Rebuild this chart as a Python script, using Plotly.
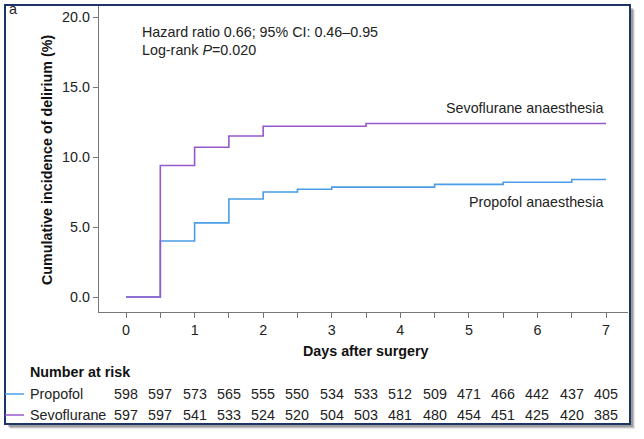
import plotly.graph_objects as go

# ---- data ----
propofol_days = [0, 0.5, 1, 1.5, 2, 2.5, 3, 4.5, 5.5, 6.5, 7]
propofol_inc = [0, 4.0, 5.3, 7.0, 7.5, 7.7, 7.85, 8.05, 8.2, 8.4, 8.4]
sevo_days = [0, 0.5, 1, 1.5, 2, 3.5, 7]
sevo_inc = [0, 9.4, 10.7, 11.5, 12.2, 12.4, 12.4]

risk_days = [0, 0.5, 1, 1.5, 2, 2.5, 3, 3.5, 4, 4.5, 5, 5.5, 6, 6.5, 7]
risk_propofol = [598, 597, 573, 565, 555, 550, 534, 533, 512, 509, 471, 466, 442, 437, 405]
risk_sevo = [597, 597, 541, 533, 524, 520, 504, 503, 481, 480, 454, 451, 425, 420, 385]

y_ticks = [0, 5, 10, 15, 20]
x_ticks = [0, 1, 2, 3, 4, 5, 6, 7]

BLUE = "#4A9DE6"
PURPLE = "#9658CC"
NAVY = "#1C3468"
FONT = "Liberation Sans, Arial, sans-serif"
FS = 14.3
W, H = 644, 439


def px_x(p):
    return p / W


def px_y(p):
    return (H - p) / H


fig = go.Figure()
fig.add_trace(go.Scatter(x=propofol_days, y=propofol_inc, mode="lines",
                         line=dict(color=BLUE, width=1.6, shape="hv"),
                         showlegend=False, hoverinfo="skip"))
fig.add_trace(go.Scatter(x=sevo_days, y=sevo_inc, mode="lines",
                         line=dict(color=PURPLE, width=1.6, shape="hv"),
                         showlegend=False, hoverinfo="skip"))

annotations = []
# curve labels
annotations.append(dict(x=6.98, y=13.5, xref="x", yref="y", text="Sevoflurane anaesthesia",
                        showarrow=False, xanchor="right", yanchor="middle",
                        font=dict(size=FS, color="#222")))
annotations.append(dict(x=6.98, y=6.79, xref="x", yref="y", text="Propofol anaesthesia",
                        showarrow=False, xanchor="right", yanchor="middle",
                        font=dict(size=FS, color="#222")))
annotations.append(dict(x=0.21, y=18.93, xref="x", yref="y",
                        text="Hazard ratio 0.66; 95% CI: 0.46\u20130.95",
                        showarrow=False, xanchor="left", yanchor="middle",
                        font=dict(size=FS, color="#222")))
annotations.append(dict(x=0.21, y=17.62, xref="x", yref="y",
                        text="Log-rank <i>P</i>=0.020",
                        showarrow=False, xanchor="left", yanchor="middle",
                        font=dict(size=FS, color="#222")))
# panel letter
annotations.append(dict(x=px_x(7), y=px_y(9), xref="paper", yref="paper", text="a",
                        showarrow=False, xanchor="left", yanchor="middle",
                        font=dict(size=FS, color="#222")))
# axis titles
annotations.append(dict(x=px_x(47), y=px_y(160), xref="paper", yref="paper",
                        text="<b>Cumulative incidence of delirium (%)</b>", textangle=-90,
                        showarrow=False, xanchor="center", yanchor="middle",
                        font=dict(size=FS, color="#111")))
annotations.append(dict(x=3.5, y=px_y(351), xref="x", yref="paper",
                        text="<b>Days after surgery</b>",
                        showarrow=False, xanchor="center", yanchor="middle",
                        font=dict(size=FS, color="#111")))
# number at risk
annotations.append(dict(x=px_x(28), y=px_y(372), xref="paper", yref="paper",
                        text="<b>Number at risk</b>",
                        showarrow=False, xanchor="left", yanchor="middle",
                        font=dict(size=FS, color="#111")))
row_y = [394, 415]
for name, vals, yy in [("Propofol", risk_propofol, row_y[0]), ("Sevoflurane", risk_sevo, row_y[1])]:
    annotations.append(dict(x=px_x(28), y=px_y(yy), xref="paper", yref="paper", text=name,
                            showarrow=False, xanchor="left", yanchor="middle",
                            font=dict(size=FS, color="#222")))
    for d, v in zip(risk_days, vals):
        annotations.append(dict(x=d, y=px_y(yy), xref="x", yref="paper", text=str(v),
                                showarrow=False, xanchor="center", yanchor="middle",
                                font=dict(size=FS, color="#222")))

shapes = []
# drop shadow
for off, op in [(5, 0.10), (4, 0.15), (3, 0.2)]:
    shapes.append(dict(type="rect", xref="paper", yref="paper",
                       x0=px_x(5 + off), x1=px_x(630 + off), y0=px_y(424 + off), y1=px_y(5 + off),
                       line=dict(width=0), fillcolor="rgba(0,0,0,%s)" % op, layer="below"))
shapes.append(dict(type="rect", xref="paper", yref="paper",
                   x0=px_x(5), x1=px_x(630), y0=px_y(424), y1=px_y(5),
                   line=dict(width=0), fillcolor="white", layer="below"))
shapes.append(dict(type="rect", xref="paper", yref="paper",
                   x0=px_x(5), x1=px_x(630), y0=px_y(424), y1=px_y(5),
                   line=dict(color=NAVY, width=2), fillcolor="rgba(0,0,0,0)", layer="above"))
# risk table swatches
for col, yy in [(BLUE, row_y[0]), (PURPLE, row_y[1])]:
    shapes.append(dict(type="line", xref="paper", yref="paper",
                       x0=px_x(5), x1=px_x(24), y0=px_y(yy), y1=px_y(yy),
                       line=dict(color=col, width=1.5)))

fig.update_layout(
    width=W, height=H,
    margin=dict(l=0, r=0, t=0, b=0),
    paper_bgcolor="white", plot_bgcolor="rgba(0,0,0,0)",
    font=dict(family=FONT, size=FS, color="#222"),
    annotations=annotations, shapes=shapes,
    xaxis=dict(domain=[px_x(99), px_x(628)], range=[-0.394, 7.32],
               tickvals=x_ticks, ticks="outside", ticklen=5, tickcolor="#777",
               showline=True, linecolor="#777", linewidth=1.2, showgrid=False, zeroline=False,
               tickfont=dict(size=FS, color="#222"),
               minor=dict(tickvals=[0.5, 1.5, 2.5, 3.5, 4.5, 5.5, 6.5], ticks="outside",
                          ticklen=5, tickcolor="#777", showgrid=False),
               anchor="y"),
    yaxis=dict(domain=[px_y(312), px_y(5)], range=[-1.07, 20.86],
               tickvals=y_ticks, tickformat=".1f", ticks="outside", ticklen=5, tickcolor="#777",
               showline=True, linecolor="#777", linewidth=1.2, showgrid=False, zeroline=False,
               tickfont=dict(size=FS, color="#222"), anchor="x"),
)

fig.write_html("out.html",
               config={"displayModeBar": False, "staticPlot": True},
               post_script="document.body.style.margin='0';document.body.style.overflow='hidden';")
